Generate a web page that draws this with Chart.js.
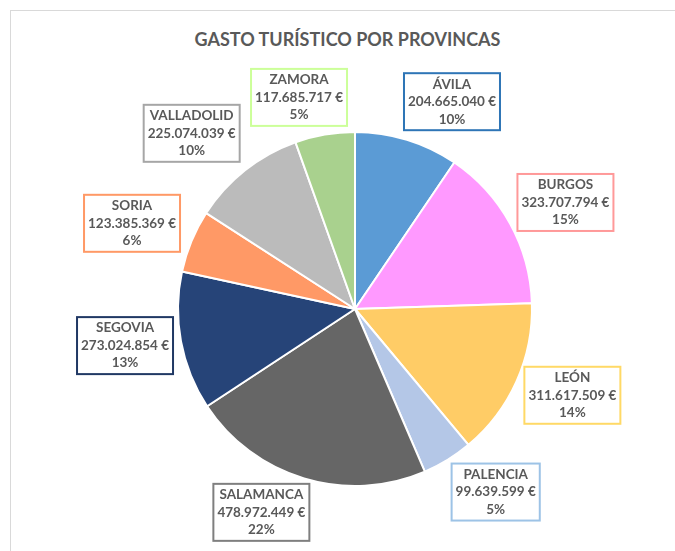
<!DOCTYPE html>
<html lang="es">
<head>
  <meta charset="UTF-8" />
  <title>Gasto turístico por provincias</title>
  <script src="https://cdn.jsdelivr.net/npm/chart.js"></script>
  <style>
    html, body { margin: 0; padding: 0; background: #fff; overflow: hidden; }
    #wrap { position: relative; width: 675px; height: 551px; }
    #marco { position: absolute; left: 10px; top: 10px; width: 700px; height: 600px; border-top: 1px solid #d9d9d9; border-left: 1px solid #d9d9d9; }
    #titulo { position: absolute; left: 0; top: 28px; width: 695px; text-align: center; font-family: Lato, sans-serif; font-weight: bold; font-size: 18px; color: #595959; }
    canvas { position: absolute; left: 0; top: 0; }
  </style>
</head>
<body>
  <div id="wrap">
    <div id="marco"></div>
    <div id="titulo">GASTO TURÍSTICO POR PROVINCAS</div>
    <canvas id="grafico" width="675" height="551"></canvas>
  </div>

  <script>
    // datos
    const provincias = ["ÁVILA", "BURGOS", "LEÓN", "PALENCIA", "SALAMANCA", "SEGOVIA", "SORIA", "VALLADOLID", "ZAMORA"];
    const gasto = [204665040, 323707794, 311617509, 99639599, 478972449, 273024854, 123385369, 225074039, 117685717];
    const porcentajes = ["10%", "15%", "14%", "5%", "22%", "13%", "6%", "10%", "5%"];

    const colores = ["#5B9BD5", "#FF99FF", "#FFCC66", "#B4C7E7", "#666666", "#264478", "#FF9966", "#BBBBBB", "#A9D18E"];
    const bordesEtiqueta = ["#2E75B6", "#FF9999", "#FFD966", "#9DC3E6", "#7F7F7F", "#203864", "#FF9966", "#A6A6A6", "#CCFF99"];
    // ajuste de cada etiqueta: grados y px respecto a la posición radial
    const ajuste = [[8, -3], [2, 4], [-2.5, 2], [-6, -1], [8, -8], [1.5, 1], [-1.5, 7], [-4.5, 8], [-5, -13]];

    const fmt = n => n.toLocaleString("de-DE") + " €";

    const etiquetas = {
      id: "etiquetas",
      afterDatasetsDraw(chart) {
        const c = chart.ctx;
        const arcs = chart.getDatasetMeta(0).data;
        c.save();
        c.font = "bold 13.5px Lato, sans-serif";
        c.textAlign = "center";
        c.textBaseline = "middle";
        arcs.forEach((arc, i) => {
          const p = arc.getProps(["x", "y", "startAngle", "endAngle", "outerRadius"], true);
          const ang = (p.startAngle + p.endAngle) / 2 + ajuste[i][0] * Math.PI / 180;
          const d = p.outerRadius * 1.31 + ajuste[i][1];
          const cx = p.x + Math.cos(ang) * d;
          const cy = p.y + Math.sin(ang) * d;
          const lineas = [provincias[i], fmt(gasto[i]), porcentajes[i]];
          const w = Math.max(...lineas.map(t => c.measureText(t).width)) + 8;
          const h = 57;
          c.fillStyle = "#fff";
          c.fillRect(cx - w / 2, cy - h / 2, w, h);
          c.strokeStyle = bordesEtiqueta[i];
          c.lineWidth = 2;
          c.strokeRect(cx - w / 2, cy - h / 2, w, h);
          c.fillStyle = "#595959";
          lineas.forEach((t, k) => c.fillText(t, cx, cy + (k - 1) * 17.5));
        });
        c.restore();
      }
    };

    new Chart(document.getElementById("grafico"), {
      type: "pie",
      data: {
        labels: provincias,
        datasets: [{
          data: gasto,
          backgroundColor: colores,
          borderColor: "#fff",
          borderWidth: 2
        }]
      },
      options: {
        responsive: false,
        animation: false,
        layout: { padding: { left: 177, right: 142, top: 131, bottom: 64 } },
        plugins: {
          legend: { display: false },
          tooltip: { enabled: false }
        }
      },
      plugins: [etiquetas]
    });
  </script>
</body>
</html>
